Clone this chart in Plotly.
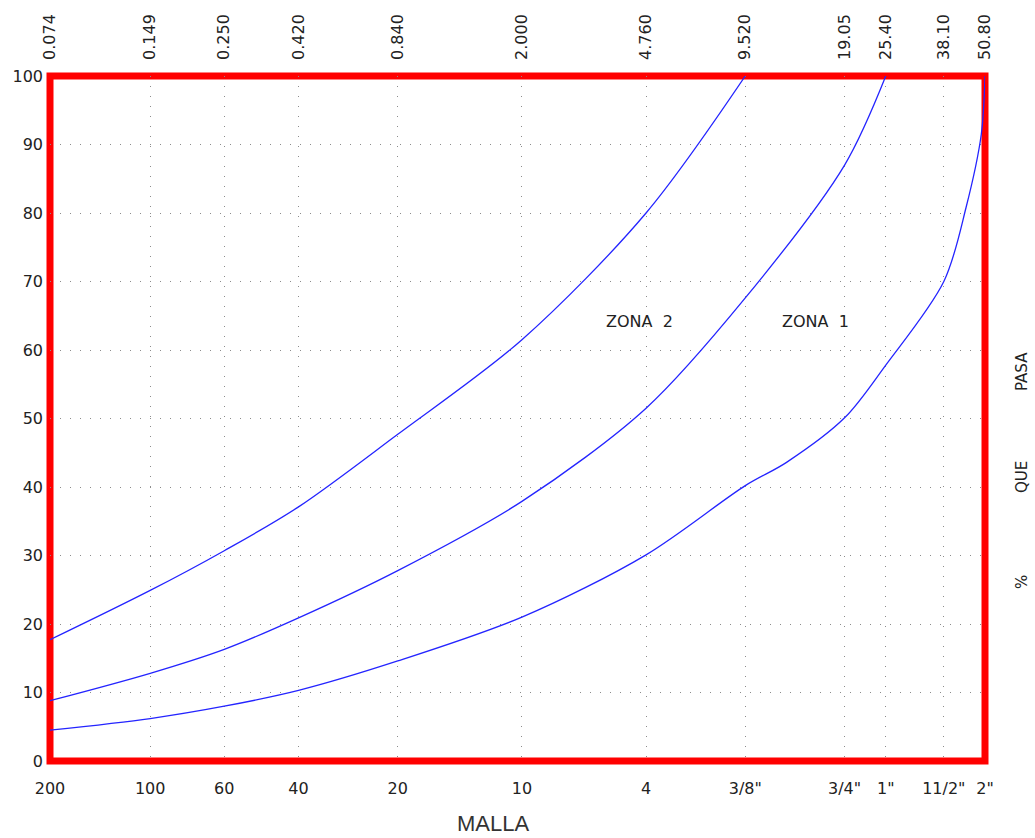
import math
import plotly.graph_objects as go

# Sieve sizes (mm) and labels
sizes_mm = [0.074, 0.149, 0.250, 0.420, 0.840, 2.000, 4.760, 9.520, 19.05, 25.40, 38.10, 50.80]
mm_labels = ["0.074", "0.149", "0.250", "0.420", "0.840", "2.000", "4.760", "9.520",
             "19.05", "25.40", "38.10", "50.80"]
mesh_labels = ["200", "100", "60", "40", "20", "10", "4", '3/8"', '3/4"', '1"', '11/2"', '2"']
y_ticks = [0, 10, 20, 30, 40, 50, 60, 70, 80, 90, 100]

# Curve 1: upper limit (left curve)
curve_sup_x = [0.074, 0.149, 0.250, 0.420, 0.840, 2.000, 4.760, 9.520]
curve_sup_y = [17.7, 24.9, 30.7, 37.1, 47.7, 61.5, 80.0, 100.0]

# Curve 2: middle
curve_med_x = [0.074, 0.149, 0.250, 0.420, 0.840, 2.000, 4.760, 9.520, 19.05, 25.40]
curve_med_y = [8.8, 12.8, 16.3, 20.9, 27.8, 37.9, 51.5, 67.6, 87.0, 100.0]

# Curve 3: lower (right curve)
curve_inf_x = [0.074, 0.149, 0.250, 0.420, 0.840, 2.000, 4.760, 9.520, 12.70, 19.05, 25.40,
               38.10, 44.5, 49.5, 50.80]
curve_inf_y = [4.5, 6.2, 8.0, 10.3, 14.6, 21.0, 30.1, 40.2, 43.6, 50.1, 57.8,
               70.0, 80.8, 91.5, 100.0]

zone_labels = ["ZONA&nbsp; 2", "ZONA&nbsp; 1"]
zone_x = [4.56, 15.5]
zone_y = [64.1, 64.1]

FONT = "DejaVu Sans"
BLUE = "#2424ff"
GRID = "#8c8c8c"

fig = go.Figure()
for xs, ys in [(curve_sup_x, curve_sup_y), (curve_med_x, curve_med_y), (curve_inf_x, curve_inf_y)]:
    fig.add_trace(go.Scatter(x=xs, y=ys, mode="lines",
                             line=dict(color=BLUE, width=1.3, shape="spline", smoothing=0.9),
                             hoverinfo="skip", showlegend=False))

# invisible trace on top axis so it renders
fig.add_trace(go.Scatter(x=sizes_mm, y=[0] * len(sizes_mm), xaxis="x2", mode="markers",
                         marker=dict(opacity=0), hoverinfo="skip", showlegend=False))

xr = [math.log10(0.074), math.log10(50.8)]

fig.update_layout(
    width=1035, height=838,
    margin=dict(l=50, r=50, t=76, b=77),
    paper_bgcolor="white", plot_bgcolor="white",
    font=dict(family=FONT, size=16, color="#222222"),
    xaxis=dict(type="log", range=xr, tickmode="array", tickvals=sizes_mm, ticktext=mesh_labels,
               showgrid=True, gridcolor=GRID, griddash="1px,9px", gridwidth=1,
               zeroline=False, showline=False, ticks="", ticklabelstandoff=16,
               tickfont=dict(family=FONT, size=16, color="#222222")),
    xaxis2=dict(type="log", range=xr, overlaying="x", side="top", tickmode="array",
                tickvals=sizes_mm, ticktext=mm_labels, tickangle=-90, showgrid=False,
                zeroline=False, showline=False, ticks="", ticklabelstandoff=15,
                tickfont=dict(family=FONT, size=16, color="#222222")),
    yaxis=dict(range=[0, 100], tickmode="array", tickvals=y_ticks,
               showgrid=True, gridcolor=GRID, griddash="1px,9px", gridwidth=1,
               zeroline=False, showline=False, ticks="", ticklabelstandoff=6,
               tickfont=dict(family=FONT, size=16, color="#222222")),
    shapes=[dict(type="rect", xref="paper", yref="paper", x0=0, x1=1, y0=0, y1=1,
                 line=dict(color="#ff0000", width=7), layer="between")],
)

for t, xv, yv in zip(zone_labels, zone_x, zone_y):
    fig.add_annotation(x=math.log10(xv), y=yv, text=t, showarrow=False,
                       font=dict(family=FONT, size=16, color="#222222"))

fig.add_annotation(xref="paper", yref="paper", x=(493 - 50) / 935, y=(761 - 823) / 685,
                   text="MALLA", showarrow=False, yanchor="middle",
                   font=dict(family="Liberation Sans", size=22, color="#333333"))

for t, py in [("PASA", 372), ("QUE", 477), ("%", 582)]:
    fig.add_annotation(xref="paper", yref="paper", x=(1022 - 50) / 935, y=(761 - py) / 685,
                       text=t, textangle=-90, showarrow=False, yanchor="middle", xanchor="center",
                       font=dict(family=FONT, size=15, color="#222222"))

fig.write_html("out.html", config={"displayModeBar": False})
